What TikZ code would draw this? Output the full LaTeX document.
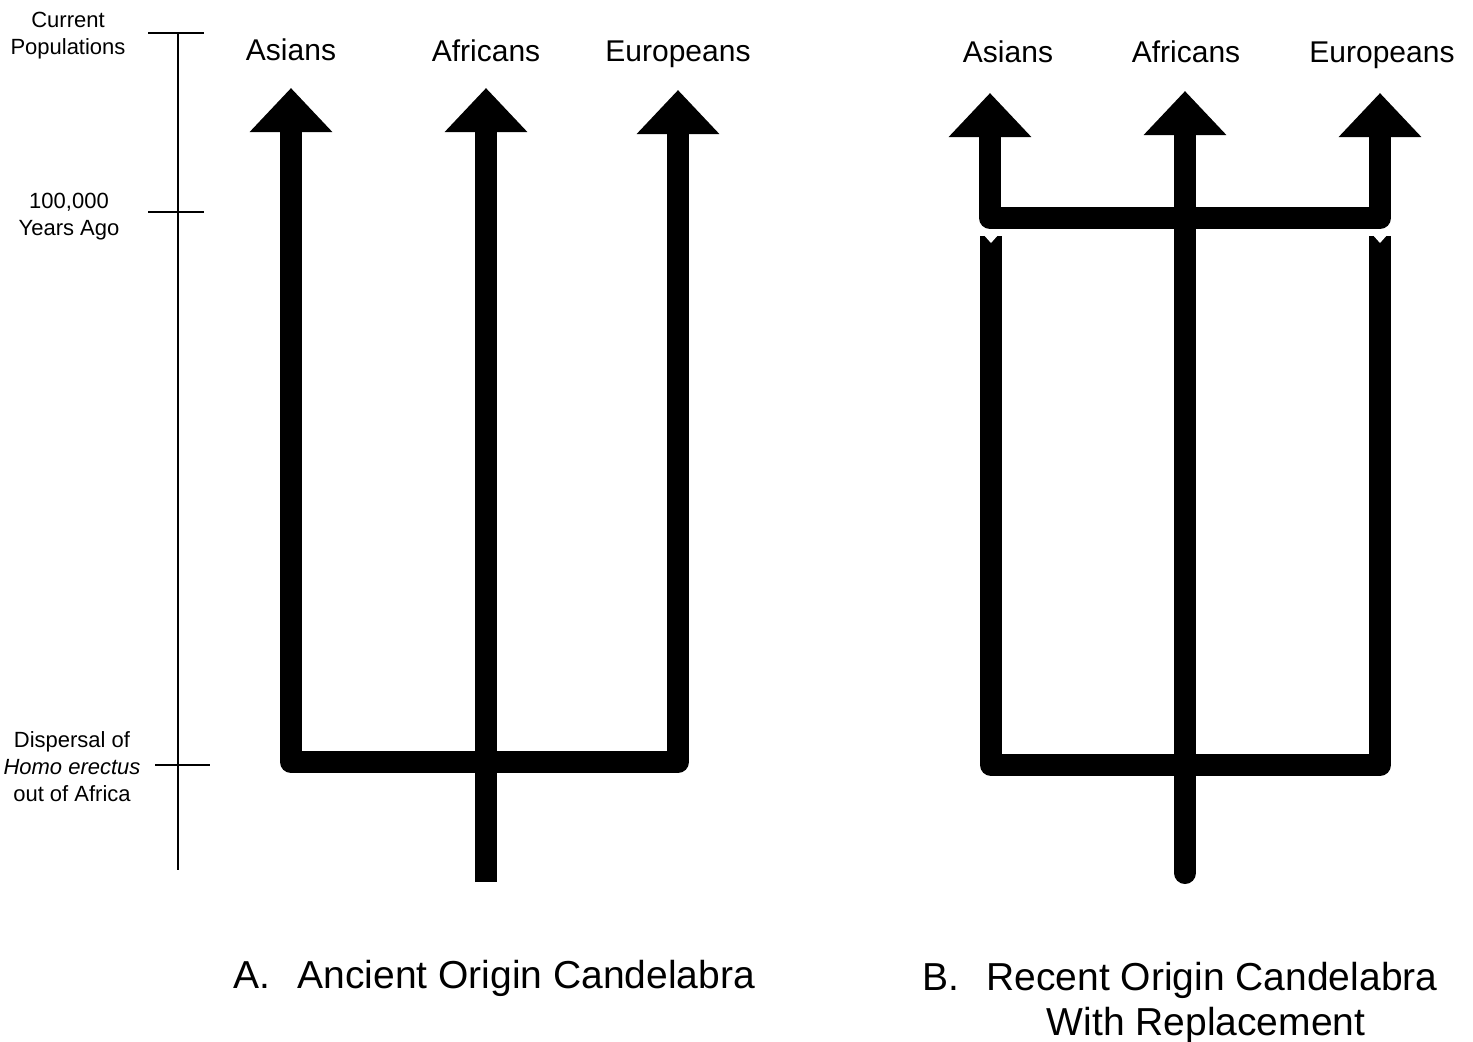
\documentclass[tikz,border=0pt]{standalone}
\usepackage{fontspec}
\setmainfont{Liberation Sans}
\usetikzlibrary{arrows.meta,positioning}
\tikzset{
  stem/.style={
    line width=11pt,
    line join=round
  },
  bigtip/.style={-{Triangle[width=40pt,length=22pt]}},
  bothtips/.style={{Triangle[width=40pt,length=22pt]}-{Triangle[width=40pt,length=22pt]}},
  axis/.style={line width=1pt},
  poplabel/.style={
    anchor=base,
    inner sep=0pt,
    font=\fontsize{15}{18}\selectfont
  },
  timelabel/.style={
    align=center,
    inner sep=0pt,
    font=\fontsize{11}{13.5}\selectfont
  },
  caption/.style={
    anchor=base west,
    inner sep=0pt,
    font=\fontsize{19.5}{23.5}\selectfont
  },
  notch/.style={fill=white}
}

\begin{document}
\begin{tikzpicture}[x=0.5pt, y=-0.5pt]
  \useasboundingbox (0,0) rectangle (1473,1041);

  % time axis
  \coordinate (tTop) at (178,33);
  \coordinate (tBot) at (178,870);
  \draw[axis] (tTop) -- (tBot);
  \draw[axis] (148,33) -- (204,33);
  \draw[axis] (148,212) -- (204,212);
  \draw[axis] (155,765) -- (210,765);
  \node[timelabel] (tNow) at (68,36) {Current\\Populations};
  \node[timelabel] (tHund) at (69,217) {100,000\\Years Ago};
  \node[timelabel] (tDisp) at (72,767) {Dispersal of\\\textit{Homo erectus}\\out of Africa};

  % A. ancient origin
  \coordinate (aAsTip) at (291,88);
  \coordinate (aAfTip) at (486,88);
  \coordinate (aEuTip) at (678,90);
  \coordinate (aAfRoot) at (486,882);
  \draw[stem, bigtip] (aAfRoot) -- (aAfTip);
  \draw[stem, bothtips] (aAsTip) -- (291,762) -- (678,762) -- (aEuTip);
  \node[poplabel] (aAs) at (291,60) {Asians};
  \node[poplabel] (aAf) at (486,61) {Africans};
  \node[poplabel] (aEu) at (678,61) {Europeans};

  % B. recent origin with replacement
  \coordinate (bAsTip) at (990,93);
  \coordinate (bAfTip) at (1185,91);
  \coordinate (bEuTip) at (1380,93);
  \coordinate (bAfRoot) at (1185,873);
  \draw[stem, bigtip, line cap=round] (bAfRoot) -- (bAfTip);
  \draw[stem, bothtips] (bAsTip) -- (990,218) -- (1380,218) -- (bEuTip);
  \coordinate (bAsCut) at (991,236);
  \coordinate (bEuCut) at (1380,236);
  \draw[stem] (bAsCut) -- (991,765) -- (1380,765) -- (bEuCut);
  \fill[notch] (983,234) -- (991,243) -- (999,234) -- cycle;
  \fill[notch] (1372,234) -- (1380,243) -- (1388,234) -- cycle;
  \node[poplabel] (bAs) at (1008,62) {Asians};
  \node[poplabel] (bAf) at (1186,62) {Africans};
  \node[poplabel] (bEu) at (1382,62) {Europeans};

  % captions
  \node[caption] (capA) at (233,988) {A.\hspace{0.7em}Ancient Origin Candelabra};
  \node[caption] (capB) at (922,990) {B.\hspace{0.7em}Recent Origin Candelabra};
  \node[caption, anchor=base] (capBb) at (1206,1035) {With Replacement};
\end{tikzpicture}
\end{document}
